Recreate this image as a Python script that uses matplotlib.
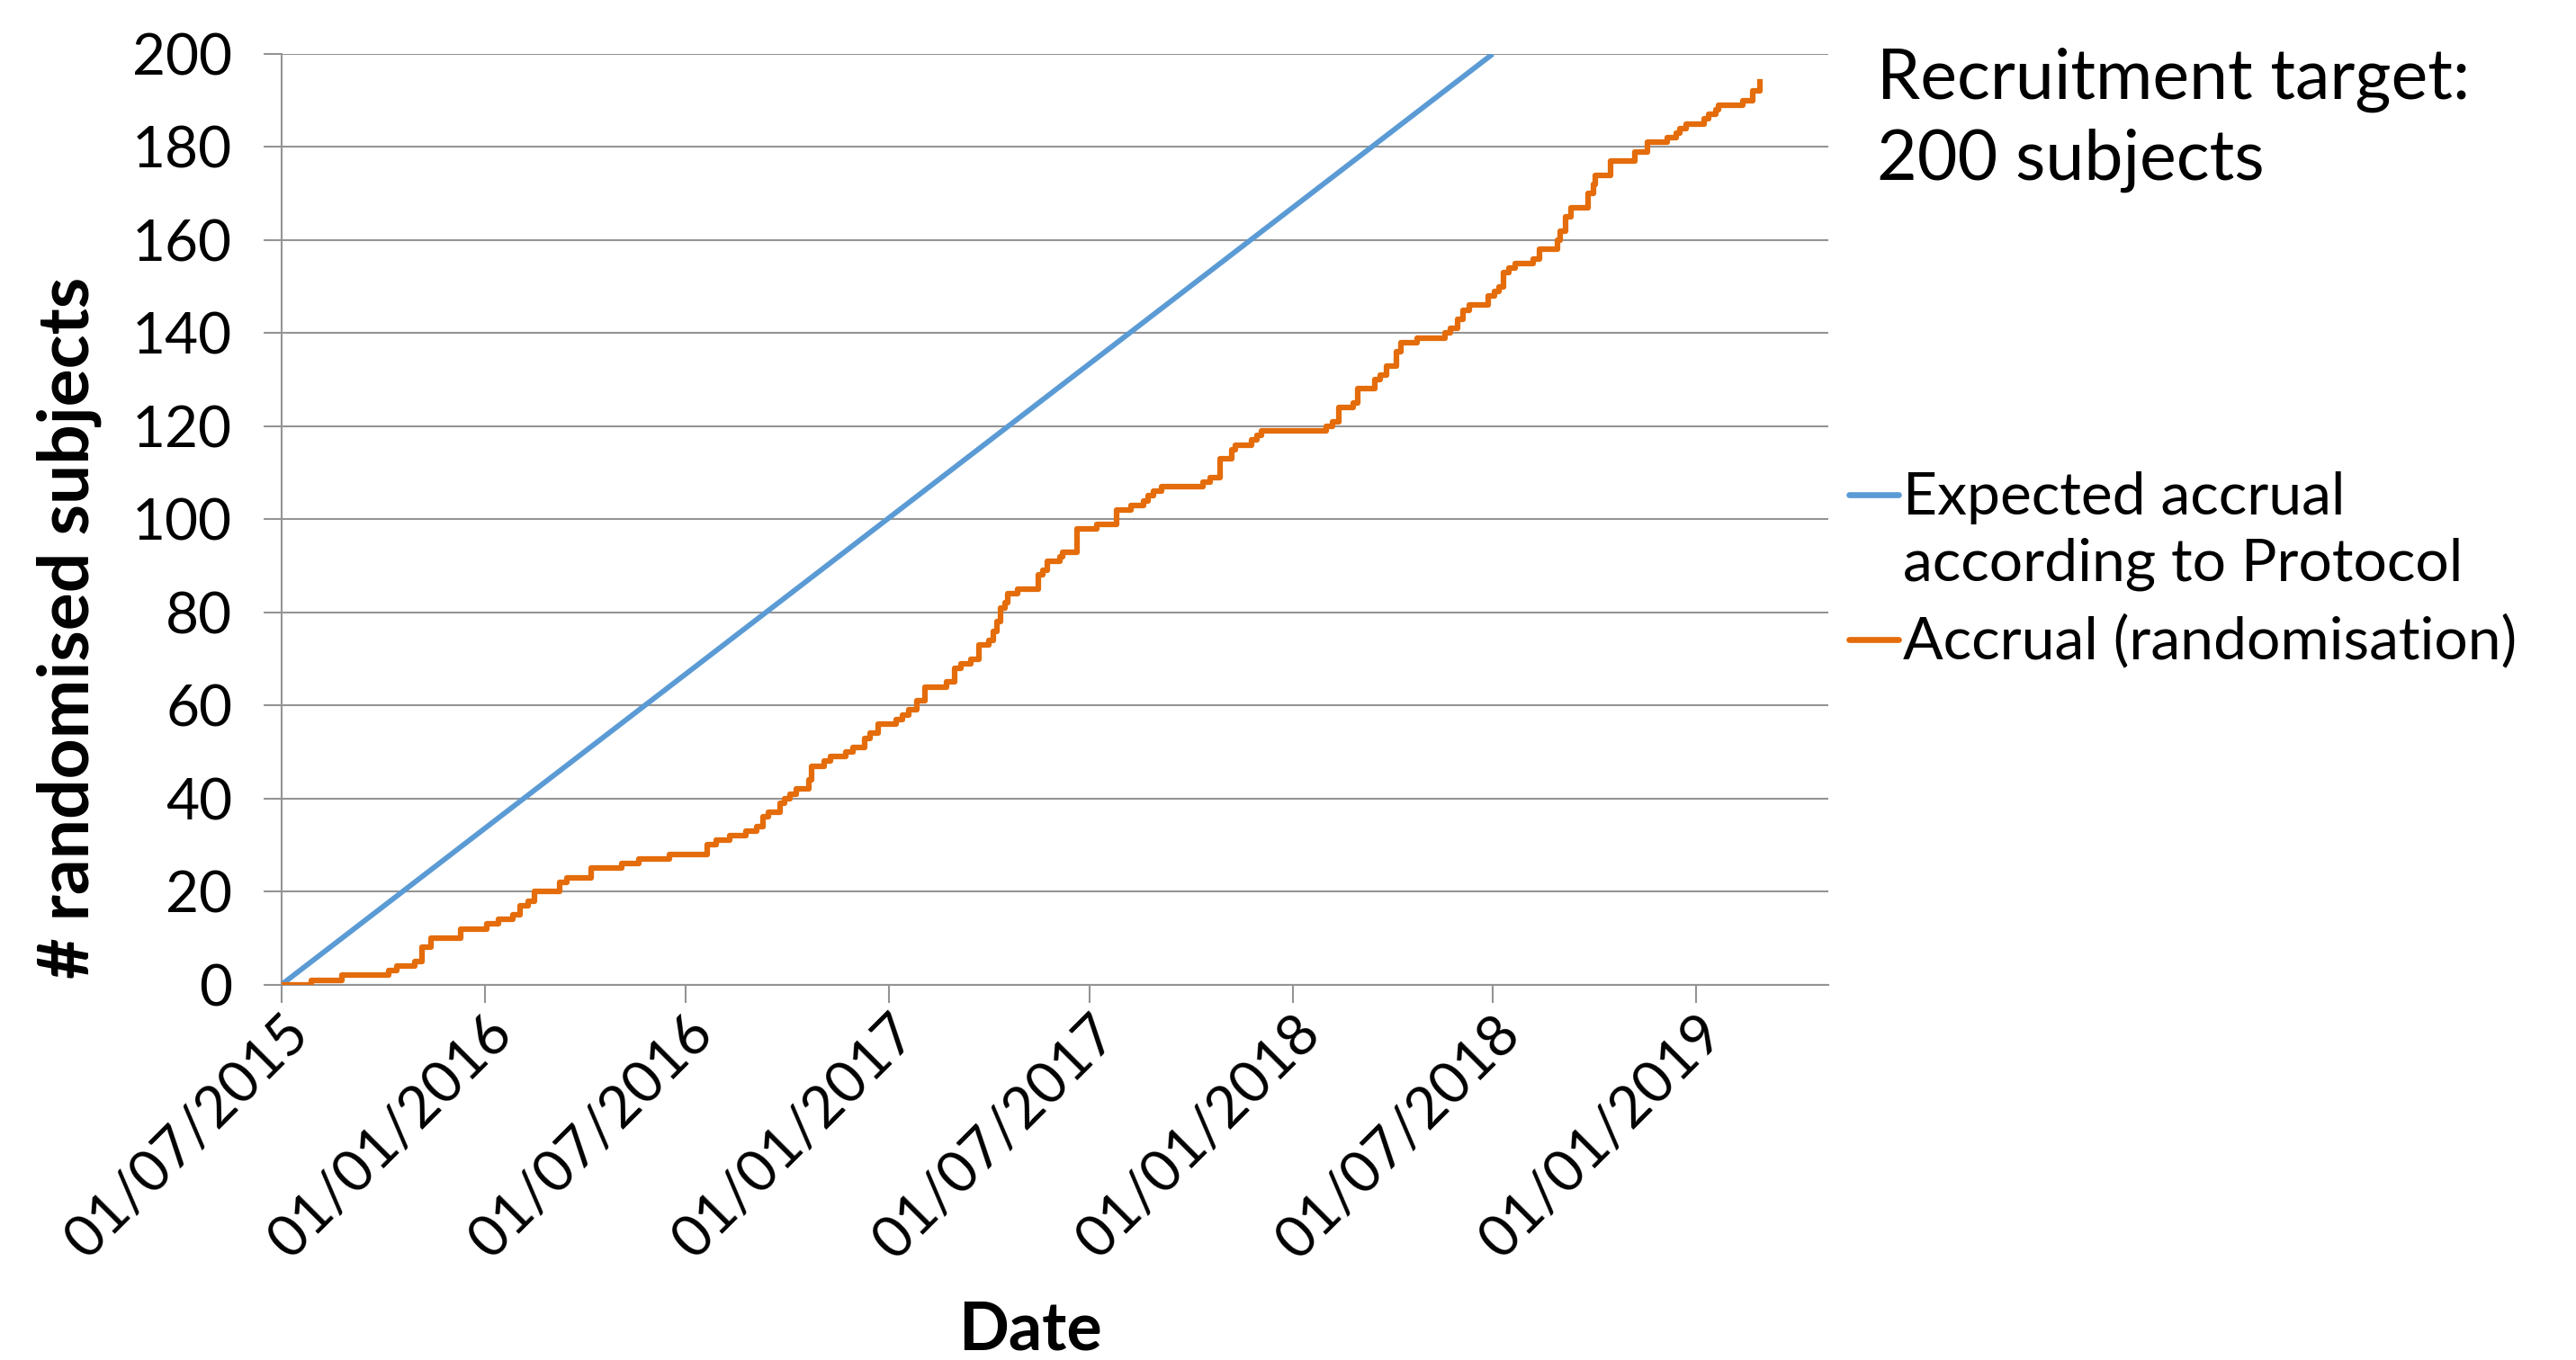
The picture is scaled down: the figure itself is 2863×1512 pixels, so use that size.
import matplotlib
matplotlib.use("Agg")
import matplotlib.pyplot as plt
from matplotlib.lines import Line2D
import pandas as pd

plt.rcParams["font.family"] = ["Lato", "DejaVu Sans"]

# expected accrual per protocol: straight line from start to target
expected_dates = ["2015-07-01", "2018-07-01"]
expected_counts = [0, 200]

# actual randomisations: days since 01/07/2015 when the running total changed
start_date = "2015-07-01"
accrual_days = [0, 27, 55, 97, 104, 121, 127, 135, 162, 186, 196, 209, 216, 223, 229,
                252, 258, 280, 308, 323, 351, 385, 393, 406, 420, 430, 436, 441, 451,
                455, 460, 466, 477, 480, 491, 497, 511, 517, 528, 533, 540, 556, 562,
                568, 575, 582, 602, 609, 615, 624, 631, 640, 644, 647, 651, 655, 657,
                666, 685, 689, 693, 704, 707, 720, 738, 756, 769, 780, 784, 789, 796,
                834, 840, 849, 860, 863, 878, 883, 887, 945, 951, 957, 970, 974, 989,
                994, 1000, 1009, 1013, 1028, 1053, 1058, 1064, 1069, 1075, 1092, 1098,
                1102, 1106, 1111, 1116, 1133, 1138, 1155, 1157, 1162, 1167, 1182, 1187,
                1189, 1203, 1225, 1236, 1254, 1262, 1265, 1271, 1287, 1291, 1298, 1300,
                1322, 1331, 1338]
accrual_counts = [0, 1, 2, 3, 4, 5, 8, 10, 12, 13, 14, 15, 17, 18, 20,
                  22, 23, 25, 26, 27, 28, 30, 31, 32, 33, 34, 36, 37, 39,
                  40, 41, 42, 44, 47, 48, 49, 50, 51, 53, 54, 56, 57, 58,
                  59, 61, 64, 65, 68, 69, 70, 73, 74, 76, 78, 81, 82, 84,
                  85, 88, 89, 91, 92, 93, 98, 99, 102, 103, 104, 105, 106, 107,
                  108, 109, 113, 115, 116, 117, 118, 119, 120, 121, 124, 125, 128, 130,
                  131, 133, 136, 138, 139, 140, 141, 143, 145, 146, 148, 149,
                  150, 153, 154, 155, 156, 158, 160, 162, 165, 167, 170, 172,
                  174, 177, 179, 181, 182, 183, 184, 185, 186, 187, 188, 189,
                  190, 192, 194]

tick_dates = ["2015-07-01", "2016-01-01", "2016-07-01", "2017-01-01",
              "2017-07-01", "2018-01-01", "2018-07-01", "2019-01-01"]
y_ticks = [0, 20, 40, 60, 80, 100, 120, 140, 160, 180, 200]

blue = "#5B9BD5"
orange = "#E46C0A"
grey = "#949494"

W, H = 2863, 1512
fig = plt.figure(figsize=(W / 100, H / 100), dpi=100)
ax = fig.add_axes([312.8 / W, 1 - 1094.7 / H, 1719.6 / W, 1034.7 / H])

accrual_dates = pd.Timestamp(start_date) + pd.to_timedelta(accrual_days, unit="D")
ax.plot(pd.to_datetime(expected_dates), expected_counts, color=blue, lw=4.2,
        solid_capstyle="butt", zorder=3)
ax.plot(accrual_dates, accrual_counts, color=orange, lw=4.5,
        drawstyle="steps-post", zorder=4)

ax.set_xlim(pd.Timestamp("2015-07-01"), pd.Timestamp("2019-05-01"))
ax.set_ylim(0, 200)
ax.set_yticks(y_ticks)
ax.set_yticklabels([str(v) for v in y_ticks], fontsize=46)
ticks = pd.to_datetime(tick_dates)
ax.set_xticks(ticks)
ax.set_xticklabels([t.strftime("%d/%m/%Y") for t in ticks], fontsize=46,
                   rotation=45, ha="right", va="top", rotation_mode="anchor")

ax.grid(axis="y", color=grey, lw=1.5)
ax.set_axisbelow(True)
for side in ["top", "right"]:
    ax.spines[side].set_visible(False)
for side in ["left", "bottom"]:
    ax.spines[side].set_color(grey)
    ax.spines[side].set_linewidth(1.5)
ax.tick_params(axis="y", length=14.4, width=1.5, color=grey, pad=25)
ax.tick_params(axis="x", length=14.4, width=1.5, color=grey, pad=3)

ax.set_xlabel("Date", fontsize=53, fontweight="bold", va="center")
ax.xaxis.set_label_coords((1145 - 312.8) / 1719.6, (1094.7 - 1479) / 1034.7)
ax.set_ylabel("# randomised subjects", fontsize=56.5, fontweight="bold", va="center")
ax.yaxis.set_label_coords((77 - 312.8) / 1719.6, (1094.7 - 698) / 1034.7)

# annotation and legend at right
fig.text(2086 / W, 1 - 110 / H, "Recruitment target:", fontsize=55.5, va="baseline")
fig.text(2086 / W, 1 - 200 / H, "200 subjects", fontsize=55.5, va="baseline")

fig.add_artist(Line2D([2055 / W, 2110 / W], [1 - 550 / H, 1 - 550 / H],
                      color=blue, lw=4.8, solid_capstyle="round"))
fig.add_artist(Line2D([2055 / W, 2110 / W], [1 - 711 / H, 1 - 711 / H],
                      color=orange, lw=4.8, solid_capstyle="round"))
fig.text(2115 / W, 1 - 572 / H, "Expected accrual", fontsize=47.5, va="baseline")
fig.text(2115 / W, 1 - 645 / H, "according to Protocol", fontsize=47.5, va="baseline")
fig.text(2115 / W, 1 - 732 / H, "Accrual (randomisation)", fontsize=47.5, va="baseline")

fig.savefig("out.png", dpi=100)
